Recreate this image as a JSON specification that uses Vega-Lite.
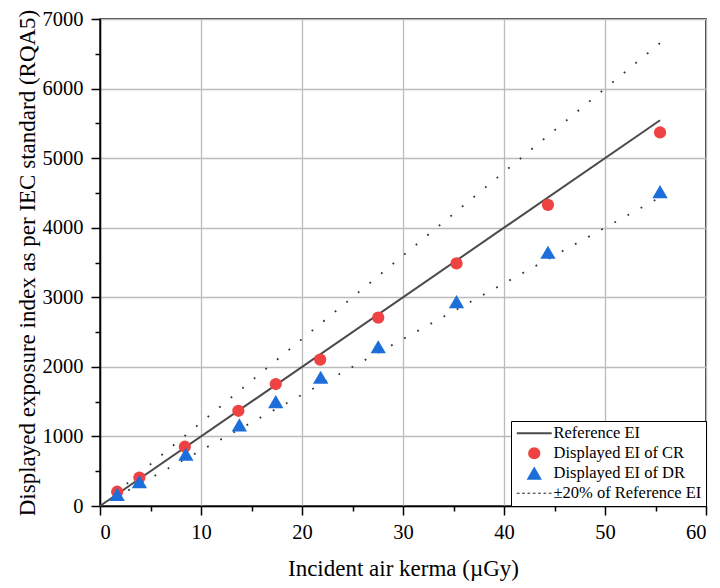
{
  "$schema": "https://vega.github.io/schema/vega-lite/v6.json",
  "width": 606,
  "height": 487,
  "autosize": {"type": "none"},
  "padding": {"left": 100, "top": 19, "right": 14, "bottom": 82},
  "background": "white",
  "config": {
    "font": "Liberation Serif",
    "view": {"stroke": "black", "strokeWidth": 1.5},
    "legend": {"labelFont": "Liberation Serif"}
  },
  "datasets": {
    "ref": [
      {"kerma": 0, "ei": 0},
      {"kerma": 55.45, "ei": 5545}
    ],
    "band": [
      {"band": "upper", "kerma": 1.5, "ei": 180},
      {"band": "upper", "kerma": 55.45, "ei": 6654},
      {"band": "lower", "kerma": 1.5, "ei": 120},
      {"band": "lower", "kerma": 55.45, "ei": 4436}
    ],
    "points": [
      {"series": "Displayed EI of CR", "kerma": 1.7, "ei": 205},
      {"series": "Displayed EI of CR", "kerma": 3.9, "ei": 407},
      {"series": "Displayed EI of CR", "kerma": 8.4, "ei": 852},
      {"series": "Displayed EI of CR", "kerma": 13.7, "ei": 1369},
      {"series": "Displayed EI of CR", "kerma": 17.4, "ei": 1753},
      {"series": "Displayed EI of CR", "kerma": 21.8, "ei": 2105},
      {"series": "Displayed EI of CR", "kerma": 27.55, "ei": 2708},
      {"series": "Displayed EI of CR", "kerma": 35.3, "ei": 3487},
      {"series": "Displayed EI of CR", "kerma": 44.35, "ei": 4329},
      {"series": "Displayed EI of CR", "kerma": 55.45, "ei": 5369},
      {"series": "Displayed EI of DR", "kerma": 1.7, "ei": 165},
      {"series": "Displayed EI of DR", "kerma": 3.9, "ei": 349},
      {"series": "Displayed EI of DR", "kerma": 8.5, "ei": 743},
      {"series": "Displayed EI of DR", "kerma": 13.8, "ei": 1164},
      {"series": "Displayed EI of DR", "kerma": 17.4, "ei": 1499},
      {"series": "Displayed EI of DR", "kerma": 21.85, "ei": 1849},
      {"series": "Displayed EI of DR", "kerma": 27.55, "ei": 2287},
      {"series": "Displayed EI of DR", "kerma": 35.3, "ei": 2935},
      {"series": "Displayed EI of DR", "kerma": 44.35, "ei": 3645},
      {"series": "Displayed EI of DR", "kerma": 55.45, "ei": 4516}
    ]
  },
  "encoding": {
    "x": {
      "field": "kerma", "type": "quantitative",
      "scale": {"domain": [0, 60], "nice": false},
      "axis": {
        "title": "Incident air kerma (µGy)",
        "values": [0, 5, 10, 15, 20, 25, 30, 35, 40, 45, 50, 55, 60],
        "format": "d",
        "labelExpr": "datum.value % 10 === 0 ? datum.label : ''",
        "labelFont": "Liberation Serif", "titleFont": "Liberation Serif",
        "labelColor": "black", "titleColor": "black", "titleFontWeight": "normal",
        "domainColor": "black", "tickColor": "black",
        "labelFontSize": 20.5, "titleFontSize": 23,
        "tickSize": {"condition": {"test": "datum.value % 10 === 0", "value": 9}, "value": 5},
        "tickWidth": 1.5, "domainWidth": 1.5,
        "labelPadding": 7, "titlePadding": 15,
        "grid": true, "gridColor": "#bbbbbb", "gridWidth": 1.3,
        "gridOpacity": {"condition": {"test": "datum.value % 10 === 0", "value": 1}, "value": 0}
      }
    },
    "y": {
      "field": "ei", "type": "quantitative",
      "scale": {"domain": [0, 7000], "nice": false},
      "axis": {
        "title": "Displayed exposure index as per IEC standard (RQA5)",
        "values": [0, 500, 1000, 1500, 2000, 2500, 3000, 3500, 4000, 4500, 5000, 5500, 6000, 6500, 7000],
        "format": "d",
        "labelExpr": "datum.value % 1000 === 0 ? datum.label : ''",
        "labelFont": "Liberation Serif", "titleFont": "Liberation Serif",
        "labelColor": "black", "titleColor": "black", "titleFontWeight": "normal",
        "domainColor": "black", "tickColor": "black",
        "labelFontSize": 20.5, "titleFontSize": 23,
        "tickSize": {"condition": {"test": "datum.value % 1000 === 0", "value": 9}, "value": 5},
        "tickWidth": 1.5, "domainWidth": 1.5,
        "labelPadding": 8, "titlePadding": 3,
        "grid": true, "gridColor": "#bbbbbb", "gridWidth": 1.3,
        "gridOpacity": {"condition": {"test": "datum.value % 1000 === 0", "value": 1}, "value": 0}
      }
    }
  },
  "layer": [
    {
      "data": {"name": "ref"},
      "mark": {"type": "line", "color": "#4a4a4a", "strokeWidth": 2}
    },
    {
      "data": {"name": "band"},
      "mark": {"type": "line", "color": "#333333", "strokeWidth": 1.8, "strokeDash": [1.8, 13.2]},
      "encoding": {
        "detail": {"field": "band"}
      }
    },
    {
      "data": {"name": "points"},
      "mark": {"type": "point", "filled": true, "opacity": 1, "size": 150},
      "encoding": {
        "color": {
          "field": "series", "type": "nominal",
          "scale": {
            "domain": ["Reference EI", "Displayed EI of CR", "Displayed EI of DR", "±20% of Reference EI"],
            "range": ["#4a4a4a", "#ef4343", "#1c6edb", "#222222"]
          },
          "legend": {
            "title": null,
            "orient": "bottom-right",
            "offset": 0,
            "padding": 4,
            "strokeColor": "black",
            "fillColor": "white",
            "labelFont": "Liberation Serif",
            "labelFontSize": 16.5,
            "labelColor": "black",
            "symbolSize": 150,
            "symbolStrokeWidth": 0,
            "symbolOffset": 11,
            "labelOffset": 11,
            "rowPadding": 3
          }
        },
        "shape": {
          "field": "series", "type": "nominal",
          "scale": {
            "domain": ["Reference EI", "Displayed EI of CR", "Displayed EI of DR", "±20% of Reference EI"],
            "range": [
              "M-2.85,-0.17H2.85V0.17H-2.85Z",
              "circle",
              "M0,-1.1L1.25,1.05L-1.25,1.05Z",
              "M-2.85,-0.08H-2.4V0.08H-2.85ZM-1.98,-0.08H-1.53V0.08H-1.98ZM-1.11,-0.08H-0.66V0.08H-1.11ZM-0.24,-0.08H0.21V0.08H-0.24ZM0.63,-0.08H1.08V0.08H0.63ZM1.5,-0.08H1.95V0.08H1.5ZM2.37,-0.08H2.82V0.08H2.37Z"
            ]
          },
          "legend": {
            "title": null,
            "orient": "bottom-right",
            "offset": 0,
            "padding": 4,
            "strokeColor": "black",
            "fillColor": "white",
            "labelFont": "Liberation Serif",
            "labelFontSize": 16.5,
            "labelColor": "black",
            "symbolSize": 150,
            "symbolStrokeWidth": 0,
            "symbolOffset": 11,
            "labelOffset": 11,
            "rowPadding": 3
          }
        }
      }
    }
  ]
}
